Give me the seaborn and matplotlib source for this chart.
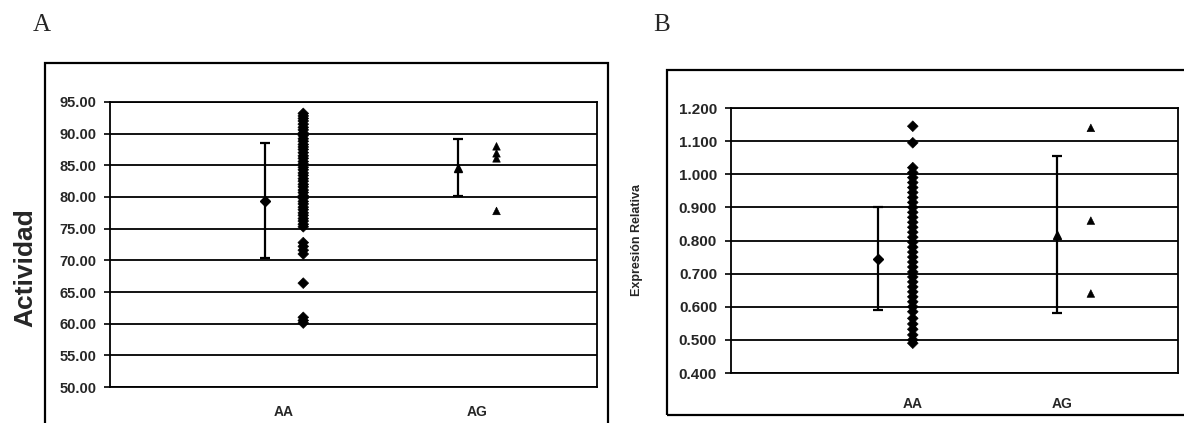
import numpy as np
import pandas as pd
import matplotlib
matplotlib.use("Agg")
import matplotlib.pyplot as plt
import seaborn as sns
from matplotlib.patches import Rectangle

# ---------------- data ----------------
categories = ["AA", "AG"]
cat_pos = [0, 1]

# Panel A: Actividad
act_aa = [93.2, 92.8, 92.4, 92.0, 91.5, 91.0, 90.6, 90.1, 89.7, 89.2, 88.8,
          88.3, 87.9, 87.5, 87.0, 86.5, 86.1, 85.6, 85.2, 84.7, 84.3, 83.8,
          83.4, 82.9, 82.5, 82.0, 81.6, 81.1, 80.7, 80.2, 79.8, 79.3, 78.9,
          78.4, 78.0, 77.5, 77.1, 76.6, 76.2, 75.7, 75.3, 72.8, 72.2, 71.6,
          71.0, 66.4, 61.0, 60.5, 60.1]
act_ag = [88.0, 86.9, 86.1, 77.8]
act_mean = [79.4, 84.6]
act_err = [9.1, 4.5]
act_ticks = [50.0, 55.0, 60.0, 65.0, 70.0, 75.0, 80.0, 85.0, 90.0, 95.0]

# Panel B: Expresión Relativa
exp_aa = [1.145, 1.095, 1.020, 1.005, 0.990, 0.975, 0.960, 0.945, 0.930,
          0.915, 0.900, 0.885, 0.870, 0.855, 0.840, 0.825, 0.810, 0.795,
          0.780, 0.765, 0.750, 0.735, 0.720, 0.705, 0.690, 0.675, 0.660,
          0.645, 0.630, 0.615, 0.600, 0.585, 0.565, 0.548, 0.532, 0.515,
          0.500, 0.490]
exp_ag = [1.140, 0.860, 0.640]
exp_mean = [0.745, 0.818]
exp_err = [0.155, 0.237]
exp_ticks = [0.4, 0.5, 0.6, 0.7, 0.8, 0.9, 1.0, 1.1, 1.2]

# ---------------- style ----------------
sns.set_theme(style="white")
plt.rcParams["font.family"] = ["Liberation Sans", "DejaVu Sans"]

W, H = 1184, 423
fig = plt.figure(figsize=(W / 100, H / 100), dpi=100)


def fx(px):
    return px / W


def fy(py):
    return 1 - py / H


axA = fig.add_axes([fx(110), fy(387), fx(597) - fx(110), fy(102) - fy(387)])
axB = fig.add_axes([fx(731), fy(373), fx(1178) - fx(731), fy(108) - fy(373)])

markers = {"AA": "D", "AG": "^"}


def draw_panel(ax, aa_vals, ag_vals, means, errs, ticks, fmt,
               pt_off, eb_off, xlim, xpad, tick_fs):
    df = pd.DataFrame({
        "x": [cat_pos[0] + pt_off[0]] * len(aa_vals) + [cat_pos[1] + pt_off[1]] * len(ag_vals),
        "y": list(aa_vals) + list(ag_vals),
        "g": ["AA"] * len(aa_vals) + ["AG"] * len(ag_vals),
    })
    sns.scatterplot(data=df, x="x", y="y", style="g", markers=markers,
                    color="black", edgecolor="black", s=30, legend=False,
                    ax=ax, zorder=4)
    for i, c in enumerate(categories):
        ax.errorbar(cat_pos[i] + eb_off[i], means[i], yerr=errs[i],
                    fmt=markers[c], color="black", ms=5.5, elinewidth=1.6,
                    capsize=3.5, capthick=1.6, zorder=3)
    ax.set_xlim(*xlim)
    ax.set_ylim(ticks[0], ticks[-1])
    ax.set_yticks(ticks)
    ax.set_yticklabels([fmt.format(t) for t in ticks], fontsize=tick_fs,
                       fontweight="bold")
    ax.set_xticks(cat_pos)
    ax.set_xticklabels(categories, fontsize=10, fontweight="bold")
    ax.tick_params(axis="x", length=0, pad=xpad)
    ax.tick_params(axis="y", length=4, width=1.2, color="black", pad=6,
                   direction="out", left=True)
    for t in ticks:
        ax.axhline(t, color="black", lw=1.3, zorder=1)
    for s in ax.spines.values():
        s.set_visible(True)
        s.set_color("black")
        s.set_linewidth(1.3)
    ax.set_xlabel("")
    ax.set_ylabel("")
    ax.set_facecolor("white")


draw_panel(axA, act_aa, act_ag, act_mean, act_err, act_ticks, "{:.2f}",
           pt_off=[0.1, 0.1], eb_off=[-0.1, -0.1], xlim=(-0.90, 1.62),
           xpad=13, tick_fs=10.5)
draw_panel(axB, exp_aa, exp_ag, exp_mean, exp_err, exp_ticks, "{:.3f}",
           pt_off=[0.0, 0.195], eb_off=[-0.235, -0.03], xlim=(-1.22, 1.78),
           xpad=17, tick_fs=11)

# y labels
fig.text(fx(25), fy(268), "Actividad", rotation=90, ha="center", va="center",
         fontsize=19, fontweight="bold")
fig.text(fx(637), fy(240), "Expresión Relativa", rotation=90, ha="center",
         va="center", fontsize=9, fontweight="bold")

# panel letters
fig.text(fx(42), fy(25), "A", ha="center", va="center", fontsize=18,
         family=["Liberation Serif", "DejaVu Serif"])
fig.text(fx(662), fy(25), "B", ha="center", va="center", fontsize=18,
         family=["Liberation Serif", "DejaVu Serif"])

# outer chart boxes
fig.patches.append(Rectangle((fx(45), fy(440)), fx(608) - fx(45), fy(63) - fy(440),
                             transform=fig.transFigure, fill=False,
                             edgecolor="black", lw=1.6, zorder=0))
fig.patches.append(Rectangle((fx(667), fy(415)), fx(1200) - fx(667), fy(70) - fy(415),
                             transform=fig.transFigure, fill=False,
                             edgecolor="black", lw=1.6, zorder=0))

fig.savefig("out.png", dpi=100, facecolor="white")
